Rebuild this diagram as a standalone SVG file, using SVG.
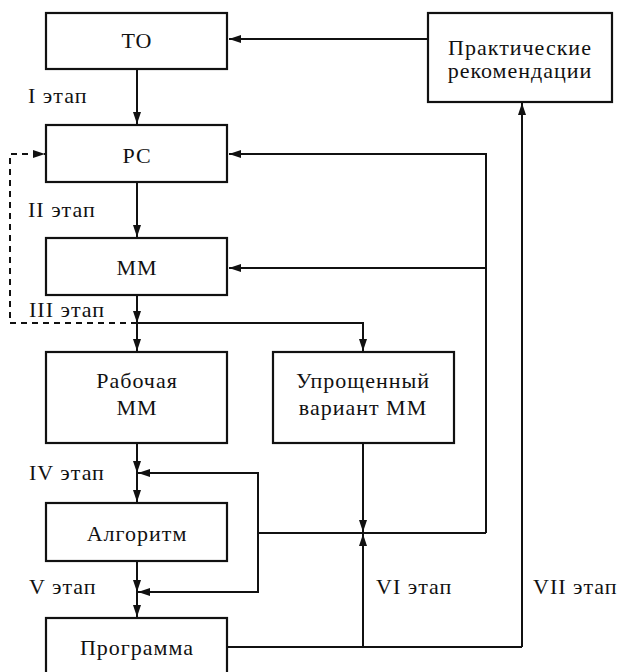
<svg xmlns="http://www.w3.org/2000/svg" width="632" height="672" viewBox="0 0 632 672">
<style>
.box{fill:#fff;stroke:#111;stroke-width:2.2}
.t{font-size:22px;letter-spacing:1px;fill:#111;text-anchor:middle}
.l{font-size:22px;letter-spacing:1px;fill:#111}
.c{fill:none;stroke:#111;stroke-width:2}
.d{fill:none;stroke:#111;stroke-width:2;stroke-dasharray:6,5}
</style>
<defs>
<marker id="ah" viewBox="0 0 12 8" refX="12" refY="4" markerWidth="12" markerHeight="8" markerUnits="userSpaceOnUse" orient="auto">
<path d="M0,0 L12,4 L0,8 z" fill="#111"/>
</marker>
</defs>
<rect width="632" height="672" fill="#fff"/>
<g id="connectors">
<path class="c" d="M428,39 H229" marker-end="url(#ah)"/>
<path class="c" d="M137,69 V124" marker-end="url(#ah)"/>
<path class="c" d="M486,533 V154 H229" marker-end="url(#ah)"/>
<path class="d" d="M137,323 H10 V154 H45" marker-end="url(#ah)"/>
<path class="c" d="M137,182 V237" marker-end="url(#ah)"/>
<path class="c" d="M486,268 H229" marker-end="url(#ah)"/>
<path class="c" d="M137,295 V323" marker-end="url(#ah)"/>
<path class="c" d="M137,323 V351" marker-end="url(#ah)"/>
<path class="c" d="M137,323 H363 V351" marker-end="url(#ah)"/>
<path class="c" d="M137,443 V473" marker-end="url(#ah)"/>
<path class="c" d="M137,473 V502" marker-end="url(#ah)"/>
<path class="c" d="M486,533 H258 V473 H138" marker-end="url(#ah)"/>
<path class="c" d="M258,533 V592 H138" marker-end="url(#ah)"/>
<path class="c" d="M137,561 V592" marker-end="url(#ah)"/>
<path class="c" d="M137,592 V617" marker-end="url(#ah)"/>
<path class="c" d="M363,443 V532" marker-end="url(#ah)"/>
<path class="c" d="M227,647 H522" />
<path class="c" d="M363,647 V534" marker-end="url(#ah)"/>
<path class="c" d="M522,647 V103" marker-end="url(#ah)"/>
</g>
<g font-family="'Liberation Serif', 'Times New Roman', serif">
<g id="TO"><rect class="box" x="46" y="13" width="181" height="56"/><text class="t" x="137" y="48">ТО</text></g>
<g id="PR"><rect class="box" x="428" y="13" width="184" height="89"/><text class="t" x="520" y="55">Практические</text><text class="t" x="520" y="78">рекомендации</text></g>
<g id="PC"><rect class="box" x="46" y="125" width="181" height="57"/><text class="t" x="137" y="163">РС</text></g>
<g id="MM"><rect class="box" x="46" y="238" width="181" height="57"/><text class="t" x="137" y="275">ММ</text></g>
<g id="RMM"><rect class="box" x="46" y="352" width="181" height="91"/><text class="t" x="137" y="388">Рабочая</text><text class="t" x="137" y="415">ММ</text></g>
<g id="UMM"><rect class="box" x="273" y="352" width="181" height="91"/><text class="t" x="363" y="388">Упрощенный</text><text class="t" x="363" y="415">вариант ММ</text></g>
<g id="ALG"><rect class="box" x="46" y="503" width="181" height="58"/><text class="t" x="137" y="541">Алгоритм</text></g>
<g id="PRG"><rect class="box" x="46" y="618" width="181" height="70"/><text class="t" x="137" y="655">Программа</text></g>
<g id="labels">
<text class="l" x="28" y="103">I этап</text>
<text class="l" x="28" y="217">II этап</text>
<text class="l" x="29" y="317">III этап</text>
<text class="l" x="29" y="480">IV этап</text>
<text class="l" x="29" y="594">V этап</text>
<text class="l" x="376" y="594">VI этап</text>
<text class="l" x="533" y="594">VII этап</text>
</g>
</g>
</svg>
